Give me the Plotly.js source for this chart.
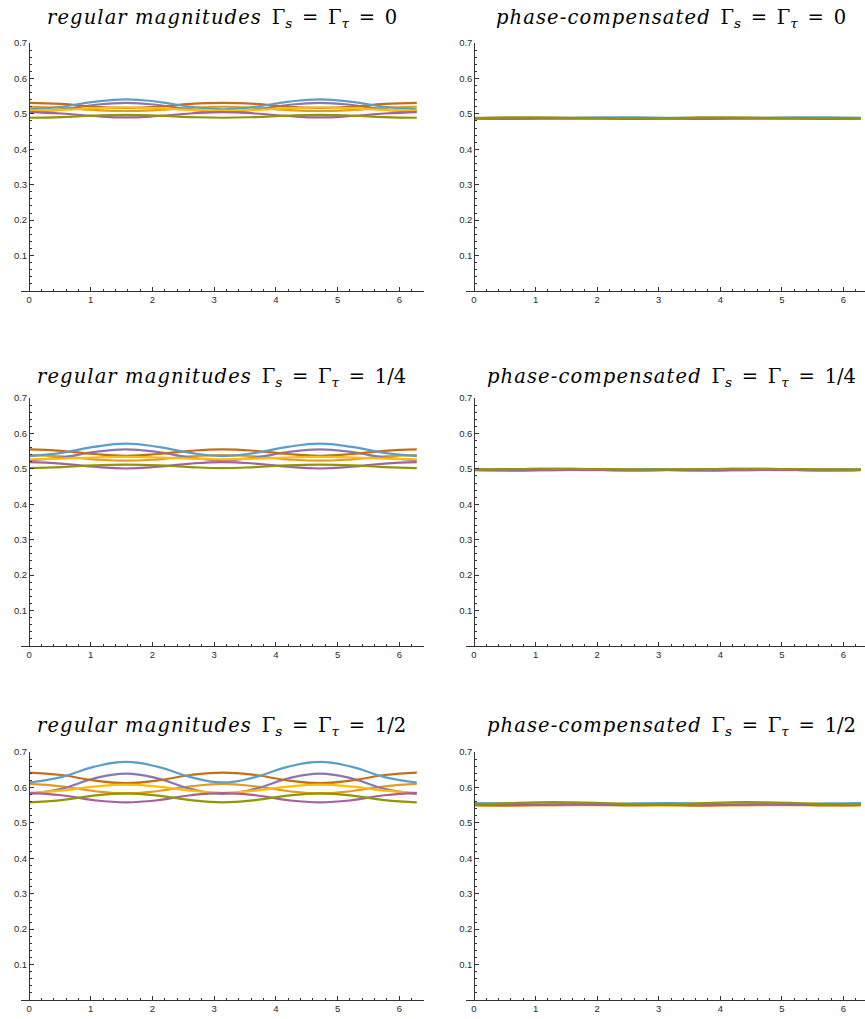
<!DOCTYPE html>
<html>
<head>
<meta charset="utf-8">
<script src="https://cdn.plot.ly/plotly-3.0.1.min.js"></script>
<style>html,body{margin:0;padding:0;background:#fff}#chart{width:865px;height:1019px}</style>
</head>
<body>
<div id="chart"></div>
<script>
// x sample positions (0 .. 2π)
const xs = [0, 0.524, 1.047, 1.571, 2.094, 2.618, 3.142, 3.665, 4.189, 4.712, 5.236, 5.760, 6.283];
const xTickVals = [0, 1, 2, 3, 4, 5, 6];
const xTickText = ["0", "1", "2", "3", "4", "5", "6"];
const yTickVals = [0.1, 0.2, 0.3, 0.4, 0.5, 0.6, 0.7];
const yTickText = ["0.1", "0.2", "0.3", "0.4", "0.5", "0.6", "0.7"];
const gammaLabels = ["0", "1/4", "1/2"];

// regular magnitudes, Γ = 0
const reg0_orange  = [0.520,0.517,0.511,0.508,0.511,0.517,0.520,0.517,0.511,0.508,0.511,0.517,0.520];
const reg0_purple  = [0.506,0.512,0.525,0.531,0.525,0.512,0.506,0.512,0.525,0.531,0.525,0.512,0.506];
const reg0_brown   = [0.531,0.528,0.520,0.517,0.520,0.528,0.531,0.528,0.520,0.517,0.520,0.528,0.531];
const reg0_blue    = [0.513,0.520,0.534,0.541,0.534,0.520,0.513,0.520,0.534,0.541,0.534,0.520,0.513];
const reg0_yellow  = [0.509,0.511,0.516,0.518,0.516,0.511,0.509,0.511,0.516,0.518,0.516,0.511,0.509];
const reg0_magenta = [0.505,0.501,0.494,0.490,0.494,0.501,0.505,0.501,0.494,0.490,0.494,0.501,0.505];
const reg0_olive   = [0.489,0.491,0.495,0.497,0.495,0.491,0.489,0.491,0.495,0.497,0.495,0.491,0.489];

// regular magnitudes, Γ = 1/4
const reg1_orange  = [0.539,0.535,0.527,0.523,0.527,0.535,0.539,0.535,0.527,0.523,0.527,0.535,0.539];
const reg1_purple  = [0.524,0.532,0.547,0.555,0.547,0.532,0.524,0.532,0.547,0.555,0.547,0.532,0.524];
const reg1_brown   = [0.555,0.551,0.542,0.537,0.542,0.551,0.555,0.551,0.542,0.537,0.542,0.551,0.555];
const reg1_blue    = [0.536,0.545,0.562,0.571,0.562,0.545,0.536,0.545,0.562,0.571,0.562,0.545,0.536];
const reg1_yellow  = [0.527,0.529,0.532,0.534,0.532,0.529,0.527,0.529,0.532,0.534,0.532,0.529,0.527];
const reg1_magenta = [0.519,0.515,0.506,0.501,0.506,0.515,0.519,0.515,0.506,0.501,0.506,0.515,0.519];
const reg1_olive   = [0.502,0.505,0.510,0.512,0.510,0.505,0.502,0.505,0.510,0.512,0.510,0.505,0.502];

// regular magnitudes, Γ = 1/2
const reg2_orange  = [0.610,0.603,0.590,0.583,0.590,0.603,0.610,0.603,0.590,0.583,0.590,0.603,0.610];
const reg2_purple  = [0.582,0.596,0.625,0.639,0.625,0.596,0.582,0.596,0.625,0.639,0.625,0.596,0.582];
const reg2_brown   = [0.642,0.635,0.620,0.612,0.620,0.635,0.642,0.635,0.620,0.612,0.620,0.635,0.642];
const reg2_blue    = [0.614,0.629,0.658,0.672,0.658,0.629,0.614,0.629,0.658,0.672,0.658,0.629,0.614];
const reg2_yellow  = [0.585,0.591,0.602,0.608,0.602,0.591,0.585,0.591,0.602,0.608,0.602,0.591,0.585];
const reg2_magenta = [0.584,0.578,0.564,0.558,0.564,0.578,0.584,0.578,0.564,0.558,0.564,0.578,0.584];
const reg2_olive   = [0.558,0.564,0.577,0.583,0.577,0.564,0.558,0.564,0.577,0.583,0.577,0.564,0.558];

// phase-compensated, Γ = 0
const pc0_orange  = [0.486,0.486,0.487,0.487,0.487,0.486,0.486,0.486,0.487,0.487,0.487,0.486,0.486];
const pc0_purple  = [0.487,0.487,0.487,0.488,0.487,0.487,0.487,0.487,0.487,0.488,0.487,0.487,0.487];
const pc0_brown   = [0.487,0.487,0.488,0.488,0.488,0.487,0.487,0.487,0.488,0.488,0.488,0.487,0.487];
const pc0_blue    = [0.489,0.488,0.488,0.489,0.490,0.490,0.489,0.488,0.488,0.489,0.490,0.490,0.489];
const pc0_yellow  = [0.487,0.487,0.487,0.487,0.487,0.487,0.487,0.487,0.487,0.487,0.487,0.487,0.487];
const pc0_magenta = [0.487,0.486,0.487,0.487,0.487,0.486,0.487,0.486,0.487,0.487,0.487,0.486,0.487];
const pc0_olive   = [0.488,0.490,0.490,0.489,0.488,0.488,0.488,0.490,0.490,0.489,0.488,0.488,0.488];

// phase-compensated, Γ = 1/4
const pc1_orange  = [0.496,0.495,0.496,0.497,0.496,0.495,0.496,0.495,0.496,0.497,0.496,0.495,0.496];
const pc1_purple  = [0.497,0.496,0.497,0.498,0.497,0.496,0.497,0.496,0.497,0.498,0.497,0.496,0.497];
const pc1_brown   = [0.498,0.498,0.498,0.499,0.498,0.498,0.498,0.498,0.498,0.499,0.498,0.498,0.498];
const pc1_blue    = [0.499,0.499,0.500,0.500,0.499,0.499,0.499,0.499,0.500,0.500,0.499,0.499,0.499];
const pc1_yellow  = [0.497,0.498,0.499,0.499,0.498,0.497,0.497,0.498,0.499,0.499,0.498,0.497,0.497];
const pc1_magenta = [0.497,0.496,0.496,0.497,0.497,0.496,0.497,0.496,0.496,0.497,0.497,0.496,0.497];
const pc1_olive   = [0.498,0.499,0.500,0.500,0.499,0.498,0.498,0.499,0.500,0.500,0.499,0.498,0.498];

// phase-compensated, Γ = 1/2
const pc2_orange  = [0.549,0.548,0.549,0.550,0.550,0.549,0.549,0.548,0.549,0.550,0.550,0.549,0.549];
const pc2_purple  = [0.552,0.551,0.552,0.554,0.554,0.552,0.552,0.551,0.552,0.554,0.554,0.552,0.552];
const pc2_brown   = [0.551,0.551,0.552,0.552,0.552,0.551,0.551,0.551,0.552,0.552,0.552,0.551,0.551];
const pc2_blue    = [0.556,0.555,0.553,0.552,0.553,0.555,0.556,0.555,0.553,0.552,0.553,0.555,0.556];
const pc2_yellow  = [0.550,0.551,0.553,0.553,0.552,0.550,0.550,0.551,0.553,0.553,0.552,0.550,0.550];
const pc2_magenta = [0.551,0.550,0.551,0.552,0.551,0.550,0.551,0.550,0.551,0.552,0.551,0.550,0.551];
const pc2_olive   = [0.552,0.555,0.558,0.558,0.556,0.553,0.552,0.555,0.558,0.558,0.556,0.553,0.552];

const colors = {orange:"#E19C24", purple:"#8778B3", brown:"#C56E1A", blue:"#5D9EC7", yellow:"#FFBF00", magenta:"#A5609D", olive:"#929600"};
const order = ["orange","purple","brown","blue","yellow","magenta","olive"];

const panels = [
  {orange:reg0_orange,purple:reg0_purple,brown:reg0_brown,blue:reg0_blue,yellow:reg0_yellow,magenta:reg0_magenta,olive:reg0_olive},
  {orange:pc0_orange,purple:pc0_purple,brown:pc0_brown,blue:pc0_blue,yellow:pc0_yellow,magenta:pc0_magenta,olive:pc0_olive},
  {orange:reg1_orange,purple:reg1_purple,brown:reg1_brown,blue:reg1_blue,yellow:reg1_yellow,magenta:reg1_magenta,olive:reg1_olive},
  {orange:pc1_orange,purple:pc1_purple,brown:pc1_brown,blue:pc1_blue,yellow:pc1_yellow,magenta:pc1_magenta,olive:pc1_olive},
  {orange:reg2_orange,purple:reg2_purple,brown:reg2_brown,blue:reg2_blue,yellow:reg2_yellow,magenta:reg2_magenta,olive:reg2_olive},
  {orange:pc2_orange,purple:pc2_purple,brown:pc2_brown,blue:pc2_blue,yellow:pc2_yellow,magenta:pc2_magenta,olive:pc2_olive}
];

const W = 865, H = 1019;
const colX = [{dom:[21/W, 424/W], pos:29/W, range:[-0.13, 6.4], tx:222/W},
              {dom:[466/W, 1], pos:474.3/W, range:[-0.13, 6.35], tx:671/W}];
const rowY = [{top:43, bot:291, ty:19}, {top:398, bot:646, ty:377}, {top:752, bot:1000, ty:726}];

const traces = [];
const layout = {
  width: W, height: H,
  margin: {l:0, r:0, t:0, b:0},
  paper_bgcolor: "#fff", plot_bgcolor: "#fff",
  showlegend: false,
  annotations: []
};
const tickFont = {family: "Liberation Sans, Arial, sans-serif", size: 9.5, color: "#2a2a2a"};
const SP = "\u2002";
const it = (s, sz, ls) => "<span style=\"font-style:italic;font-size:" + sz + "px" + (ls ? ";letter-spacing:" + ls + "px" : "") + "\">" + s + "</span>";

panels.forEach((p, i) => {
  const c = i % 2, r = Math.floor(i / 2);
  const n = i + 1;
  const xa = n === 1 ? "x" : "x" + n;
  const ya = n === 1 ? "y" : "y" + n;
  order.forEach(k => {
    traces.push({
      x: xs, y: p[k], xaxis: xa, yaxis: ya, type: "scatter", mode: "lines",
      line: {color: colors[k], width: 2.2, shape: "spline", smoothing: 1.3},
      hoverinfo: "skip"
    });
  });
  const yd = [1 - rowY[r].bot / H, 1 - rowY[r].top / H];
  layout["xaxis" + (n === 1 ? "" : n)] = {
    domain: colX[c].dom, range: colX[c].range, anchor: ya,
    showline: true, linecolor: "#333", linewidth: 1,
    showgrid: false, zeroline: false,
    tickmode: "array", tickvals: xTickVals, ticktext: xTickText,
    ticks: "inside", ticklen: 4, tickwidth: 1, tickcolor: "#333",
    minor: {dtick: 0.2, tick0: 0, ticks: "inside", ticklen: 2, tickwidth: 1, tickcolor: "#333", showgrid: false},
    tickfont: tickFont, fixedrange: true
  };
  layout["yaxis" + (n === 1 ? "" : n)] = {
    domain: yd, range: [0, 0.7], anchor: "free", position: colX[c].pos,
    showline: true, linecolor: "#333", linewidth: 1,
    showgrid: false, zeroline: false,
    tickmode: "array", tickvals: yTickVals, ticktext: yTickText,
    ticks: "inside", ticklen: 4, tickwidth: 1, tickcolor: "#333",
    minor: {dtick: 0.02, tick0: 0, ticks: "inside", ticklen: 2, tickwidth: 1, tickcolor: "#333", showgrid: false},
    tickfont: tickFont, fixedrange: true
  };
  const head = c === 0 ? "regular magnitudes" : "phase-compensated";
  layout.annotations.push({
    xref: "paper", yref: "paper", x: colX[c].tx, y: 1 - rowY[r].ty / H,
    xanchor: "center", yanchor: "middle", showarrow: false,
    text: it(head, 19.5, 1.1) + SP +
          "Γ<sub>" + it("s", 13.5) + "</sub>" + SP + "=" + SP + "Γ<sub>" + it("τ", 13.5) + "</sub>" + SP + "=" + SP + gammaLabels[r],
    font: {family: "DejaVu Serif, serif", size: 19.5, color: "#000"}
  });
});

Plotly.newPlot("chart", traces, layout, {staticPlot: true, displayModeBar: false});
</script>
</body>
</html>
